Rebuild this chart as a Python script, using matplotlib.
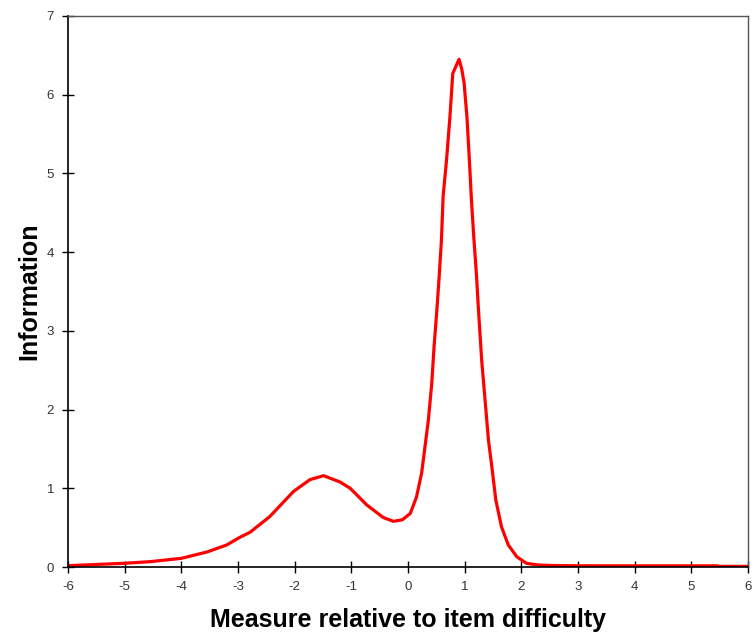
import matplotlib
matplotlib.use("Agg")
import matplotlib.pyplot as plt

# Data
measure = [-6.0, -5.44, -5.0, -4.55, -4.0, -3.55, -3.2, -2.96, -2.79, -2.44, -2.02,
           -1.73, -1.49, -1.2, -1.02, -0.73, -0.44, -0.26, -0.1, 0.04, 0.15, 0.24,
           0.3, 0.36, 0.42, 0.46, 0.51, 0.55, 0.59, 0.62, 0.68, 0.74, 0.79, 0.9,
           0.95, 0.99, 1.04, 1.08, 1.12, 1.16, 1.21, 1.24, 1.3, 1.36, 1.42, 1.48,
           1.55, 1.65, 1.77, 1.92, 2.09, 2.3, 2.6, 3.0, 4.0, 5.0, 5.45, 5.5, 6.0]
information = [0.017, 0.034, 0.047, 0.068, 0.11, 0.19, 0.28, 0.38, 0.44, 0.64, 0.96,
               1.11, 1.16, 1.08, 1.0, 0.79, 0.63, 0.58, 0.6, 0.68, 0.89, 1.19,
               1.53, 1.87, 2.34, 2.8, 3.27, 3.69, 4.15, 4.71, 5.17, 5.72, 6.27, 6.45,
               6.32, 6.15, 5.72, 5.21, 4.66, 4.2, 3.69, 3.31, 2.63, 2.12, 1.61, 1.27,
               0.85, 0.51, 0.28, 0.13, 0.047, 0.025, 0.018, 0.016, 0.015, 0.015, 0.015, 0.008, 0.008]

x_ticks = [-6, -5, -4, -3, -2, -1, 0, 1, 2, 3, 4, 5, 6]
y_ticks = [0, 1, 2, 3, 4, 5, 6, 7]

plt.rcParams['font.family'] = ['Liberation Sans', 'DejaVu Sans']

fig = plt.figure(figsize=(7.53, 6.34), dpi=100)
ax = fig.add_axes([68/753, 67/634, 680/753, 551/634])

ax.plot(measure, information, color='#ff0000', linewidth=2.3, solid_joinstyle='round')

ax.set_xlim(-6, 6)
ax.set_ylim(0, 7)
ax.set_xticks(x_ticks)
ax.set_yticks(y_ticks)
ax.set_xticklabels([str(t) for t in x_ticks])
ax.set_yticklabels([str(t) for t in y_ticks])

ax.tick_params(direction='inout', length=8, width=1, labelsize=9.5,
               labelcolor='#333333', color='black', pad=6)

for s in ['left', 'bottom']:
    ax.spines[s].set_color('black')
    ax.spines[s].set_linewidth(1.2)
for s in ['top', 'right']:
    ax.spines[s].set_color('#555555')
    ax.spines[s].set_linewidth(1.0)

ax.set_xlabel('Measure relative to item difficulty', fontsize=18, fontweight='bold', labelpad=11)
ax.set_ylabel('Information', fontsize=18, fontweight='bold', labelpad=4)

fig.savefig('out.png', dpi=100)
